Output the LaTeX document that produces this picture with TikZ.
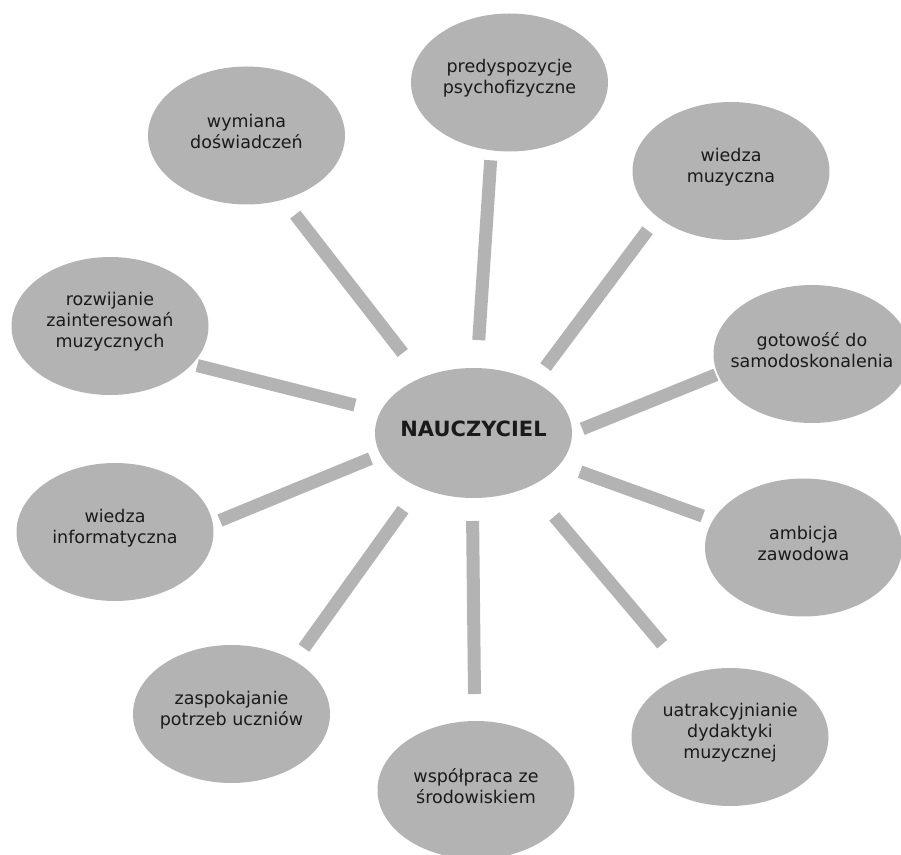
\documentclass[tikz,border=0pt]{standalone}
\usepackage{fontspec}
\setmainfont{DejaVu Sans}
\usetikzlibrary{shapes.geometric}
\definecolor{bubblegray}{HTML}{B3B3B3}
\definecolor{inkgray}{HTML}{1A1A1A}

\begin{document}
\begin{tikzpicture}[
             x = 0.5pt, y = -0.5pt,
    bubble/.style = {ellipse, fill=bubblegray, outer sep=0pt, inner sep=0pt,
                     minimum width=98.5pt, minimum height=69pt,
                     node contents={}, label={[lbl]center:{#1}}},
       lbl/.style = {align=center, text=inkgray, yshift=2pt,
                     font=\fontsize{8.75}{10.5}\selectfont},
every edge/.style = {draw=bubblegray, line width=6.5pt}
                        ]
\useasboundingbox (0,0) rectangle (901,855);
\node (hub) at (473.5,433) [bubble={\fontsize{10.5}{12.6}\selectfont\bfseries NAUCZYCIEL},
                            minimum height=65pt];
\node (pred) at (509.5,82.5) [bubble={predyspozycje\\psychofizyczne}];
\node (wym) at (246.5,135.5) [bubble={wymiana\\doświadczeń}];
\node (wmu) at (731,171) [bubble={wiedza\\muzyczna}];
\node (roz) at (110,326) [bubble={rozwijanie\\zainteresowań\\muzycznych}];
\node (got) at (812,354) [bubble={gotowość do\\samodoskonalenia}];
\node (inf) at (115,532) [bubble={wiedza\\informatyczna}];
\node (amb) at (803.5,547.5) [bubble={ambicja\\zawodowa}];
\node (zas) at (231.5,714) [bubble={zaspokajanie\\potrzeb uczniów}];
\node (uat) at (730,737) [bubble={uatrakcyjnianie\\dydaktyki\\muzycznej}];
\node (wsp) at (476,790) [bubble={współpraca ze\\środowiskiem}];

%

\path   (hub.87) edge[shorten <=14pt, shorten >=5pt] (pred.255)
        (hub.133) edge[shorten <=15.6pt, shorten >=9.6pt] (wym.-60)
        (hub.40) edge[shorten <=9.3pt, shorten >=8.3pt] (wmu.-148)
        (hub.0) edge[shorten <=5.5pt, shorten >=1pt] (got.-168)
        (hub.167) edge[shorten <=13.2pt, shorten >=2.7pt] (roz.-25)
        (hub.193) edge[shorten <=5.4pt, shorten >=3.9pt] (inf.5)
        (hub.-20) edge[shorten <=10.8pt, shorten >=5.6pt] (amb.163)
        (hub.-135) edge[shorten <=13.8pt, shorten >=8pt] (zas.40)
        (hub.-91) edge[shorten <=11.5pt, shorten >=13.5pt] (wsp.91)
        (hub.-44) edge[shorten <=19.5pt, shorten >=19.9pt] (uat.124);
\end{tikzpicture}
\end{document}
